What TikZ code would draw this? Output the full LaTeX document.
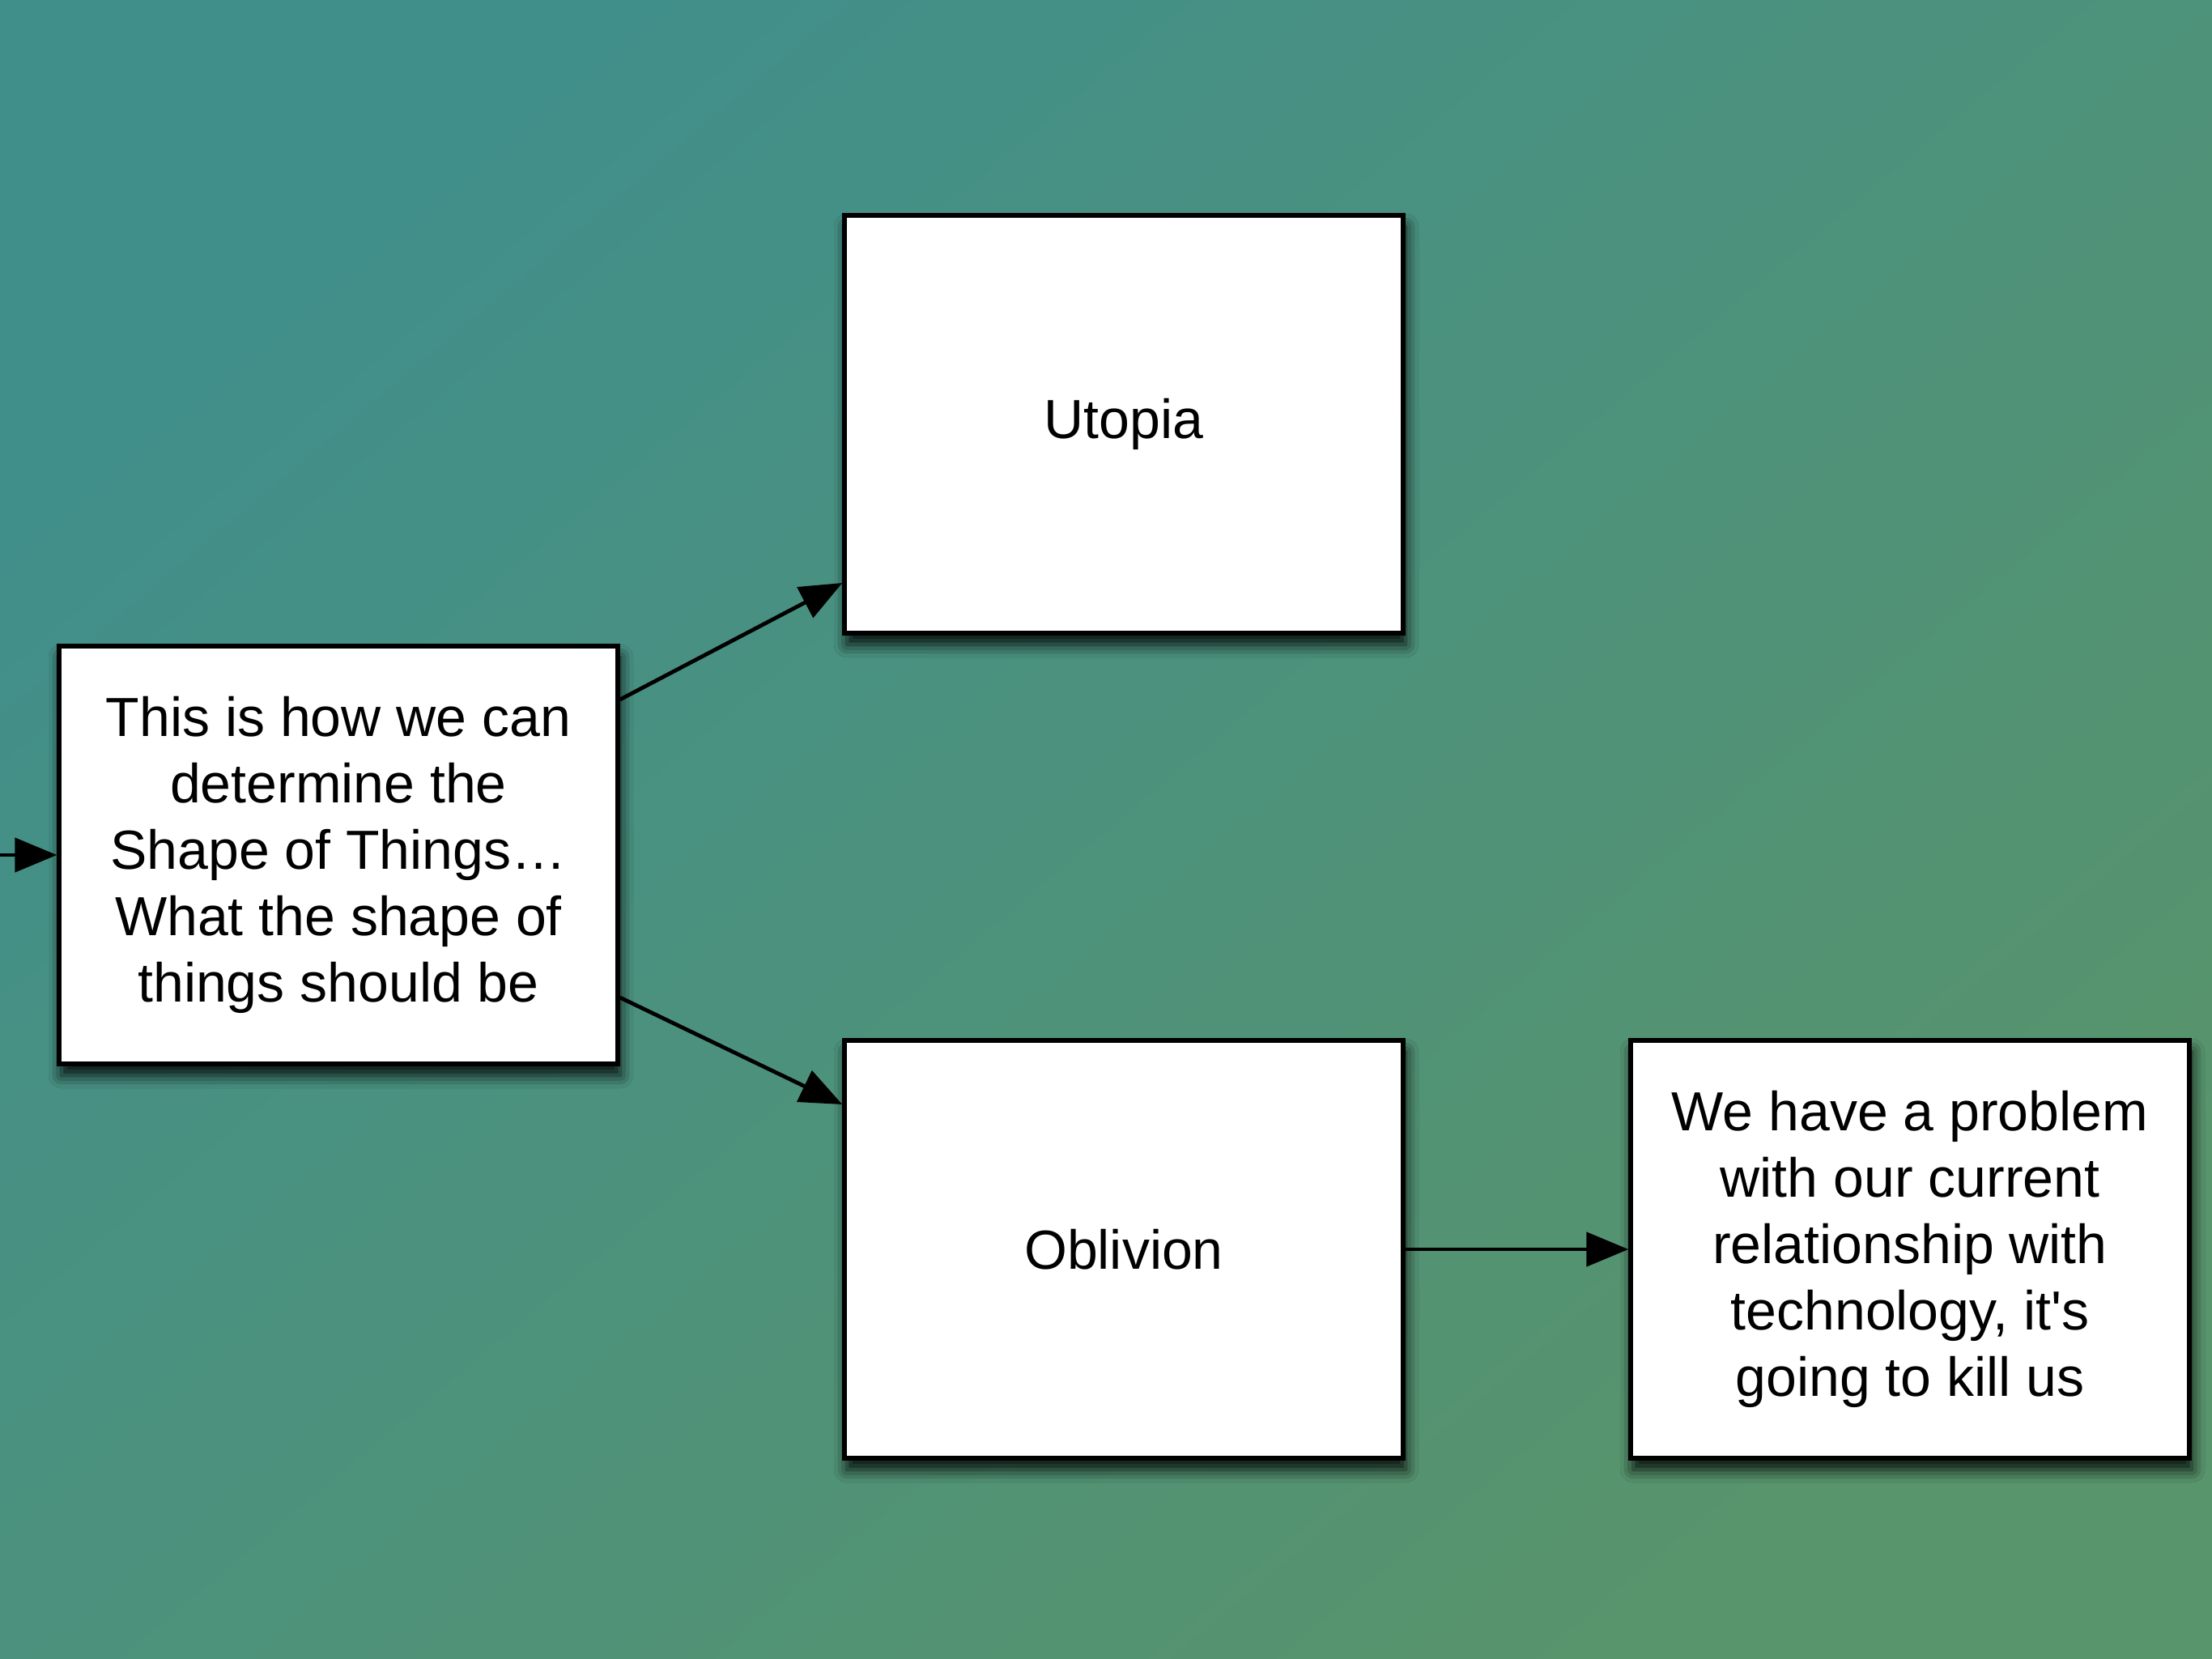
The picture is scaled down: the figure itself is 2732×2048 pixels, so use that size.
\documentclass[tikz,border=0pt]{standalone}
\usepackage{fontspec}
\setmainfont{Liberation Sans}[Ligatures=TeXOff]
\usetikzlibrary{arrows.meta,shadows.blur}
\definecolor{bgA}{HTML}{418F8B}
\definecolor{bgB}{HTML}{58946C}
\begin{document}
\begin{tikzpicture}[x=1pt,y=-1pt,
  box/.style={draw=black, line width=5.5pt, fill=white,
    minimum width=690pt, minimum height=516pt, inner sep=0pt, align=center,
    font=\fontsize{68}{82}\selectfont,
    blur shadow={shadow xshift=3pt, shadow yshift=-14pt, shadow blur radius=16pt, shadow opacity=90}},
  link/.style={line width=4.8pt, draw=black, -{Triangle[length=52pt,width=42pt]}}]
  \shade[top color=bgA, bottom color=bgB, shading angle=40] (0,0) rectangle (2732,2048);
  \useasboundingbox (0,0) rectangle (2732,2048);
  \coordinate (in) at (0,1056);
  \node[box] (L) at (418,1056) {This is how we can\\determine the\\Shape of Things…\\What the shape of\\things should be};
  \node[box] (U) at (1388,524) {Utopia};
  \node[box] (O) at (1388,1543) {Oblivion};
  \node[box] (R) at (2359,1543) {We have a problem\\with our current\\relationship with\\technology, it's\\going to kill us};
  \draw[link] (in) -- (L.west);
  \draw[link] ([yshift=192pt]L.east) -- ([yshift=-196pt]U.west);
  \draw[link] ([yshift=-176pt]L.east) -- ([yshift=179pt]O.west);
  \draw[link] (O.east) -- (R.west);
\end{tikzpicture}
\end{document}
